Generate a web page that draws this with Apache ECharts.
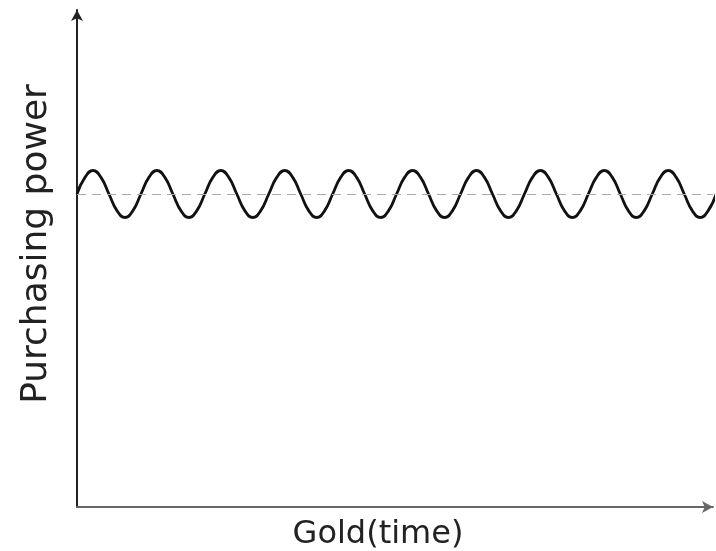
<!DOCTYPE html>
<html><head><meta charset="utf-8">
<script src="https://cdn.jsdelivr.net/npm/echarts@6/dist/echarts.min.js"></script>
<style>html,body{margin:0;padding:0;background:#fff}#c{width:716px;height:551px}</style>
</head><body><div id="c"></div>
<script>
// time in wave periods
const timePoints = [
 0,0.125,0.25,0.375,0.5,0.625,0.75,0.875,
 1,1.125,1.25,1.375,1.5,1.625,1.75,1.875,
 2,2.125,2.25,2.375,2.5,2.625,2.75,2.875,
 3,3.125,3.25,3.375,3.5,3.625,3.75,3.875,
 4,4.125,4.25,4.375,4.5,4.625,4.75,4.875,
 5,5.125,5.25,5.375,5.5,5.625,5.75,5.875,
 6,6.125,6.25,6.375,6.5,6.625,6.75,6.875,
 7,7.125,7.25,7.375,7.5,7.625,7.75,7.875,
 8,8.125,8.25,8.375,8.5,8.625,8.75,8.875,
 9,9.125,9.25,9.375,9.5,9.625,9.75,9.875,
 10];
// purchasing power (midline 313, peaks ~336.5, troughs ~289.5)
const power = [
 313,329.6,336.5,329.6,313,296.4,289.5,296.4,
 313,329.6,336.5,329.6,313,296.4,289.5,296.4,
 313,329.6,336.5,329.6,313,296.4,289.5,296.4,
 313,329.6,336.5,329.6,313,296.4,289.5,296.4,
 313,329.6,336.5,329.6,313,296.4,289.5,296.4,
 313,329.6,336.5,329.6,313,296.4,289.5,296.4,
 313,329.6,336.5,329.6,313,296.4,289.5,296.4,
 313,329.6,336.5,329.6,313,296.4,289.5,296.4,
 313,329.6,336.5,329.6,313,296.4,289.5,296.4,
 313,329.6,336.5,329.6,313,296.4,289.5,296.4,
 313];
const baseline = 313;
const xTitle = 'Gold(time)';
const yTitle = 'Purchasing power';

const chart = echarts.init(document.getElementById('c'), null, {renderer:'canvas'});
chart.setOption({
  animation:false,
  grid:{left:77,right:3,top:10,bottom:44,containLabel:false},
  xAxis:{type:'value',min:0,max:9.95,
    axisLine:{show:true,lineStyle:{color:'#666',width:2},symbol:['none','arrow'],symbolSize:[9,11]},
    axisTick:{show:false},axisLabel:{show:false},splitLine:{show:false}},
  yAxis:{type:'value',min:0,max:497,
    axisLine:{show:true,lineStyle:{color:'#222',width:2},symbol:['none','arrow'],symbolSize:[9,11]},
    axisTick:{show:false},axisLabel:{show:false},splitLine:{show:false}},
  series:[{
    type:'line',data:timePoints.map((t,i)=>[t,power[i]]),
    smooth:true,symbol:'none',lineStyle:{color:'#111',width:2.8},
    clip:true,
    markLine:{silent:true,symbol:['none','none'],label:{show:false},
      lineStyle:{color:'#aaa',type:[9,6],width:1.2},
      data:[{yAxis:baseline}]}
  }],
  graphic:[
    {type:'text',position:[378,535],style:{text:xTitle,font:'32px "DejaVu Sans"',fill:'#222',textAlign:'center',textVerticalAlign:'middle'}},
    {type:'text',rotation:Math.PI/2,position:[37,244],style:{text:yTitle,font:'36px "DejaVu Sans"',fill:'#222',textAlign:'center',textVerticalAlign:'middle'}}
  ]
});
</script></body></html>
